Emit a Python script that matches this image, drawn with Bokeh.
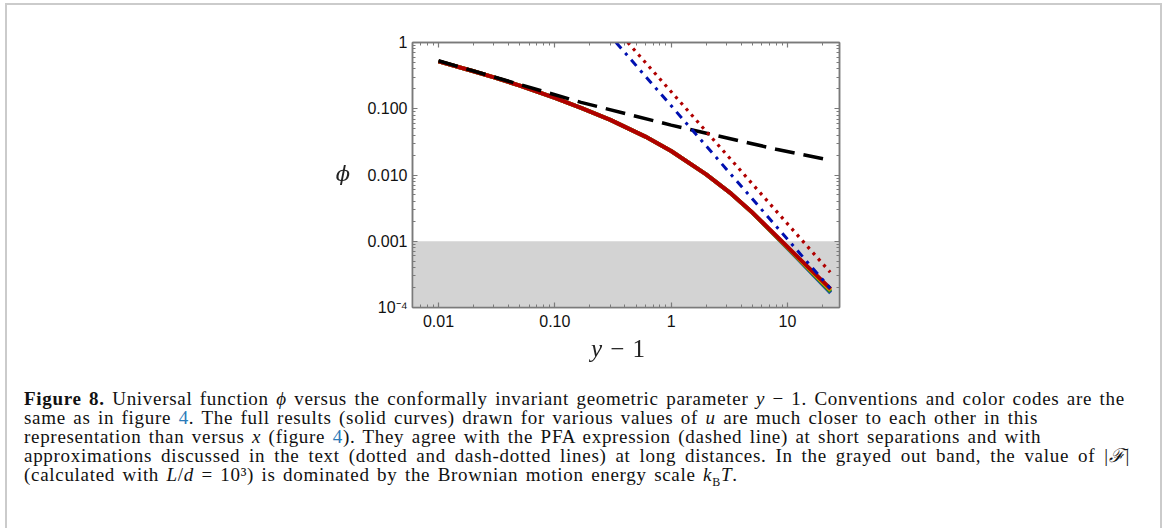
from bokeh.plotting import figure
from bokeh.models import LogAxis, FixedTicker, CustomJSTickFormatter, BoxAnnotation, Div
from bokeh.layouts import column
from bokeh.embed import file_html
from bokeh.resources import INLINE

# ---------------- data ----------------
y_minus_1 = [0.01, 0.02, 0.03, 0.05, 0.1, 0.17, 0.3, 0.6, 1, 2, 3.3, 5, 8.5, 12.6, 23.5]
phi_red = [0.52, 0.368, 0.297, 0.224, 0.1457, 0.1024, 0.0680, 0.0380, 0.0230, 0.01023,
           0.00518, 0.00271, 0.00109, 0.000552, 0.000191]
phi_orange = [0.52, 0.368, 0.297, 0.224, 0.1457, 0.1024, 0.0680, 0.0380, 0.0230, 0.01023,
              0.00518, 0.00270, 0.00107, 0.000540, 0.000181]
phi_green = [0.52, 0.368, 0.297, 0.224, 0.1457, 0.1024, 0.0680, 0.0380, 0.0230, 0.01023,
             0.00518, 0.00269, 0.00106, 0.000530, 0.000173]
phi_blue = [0.52, 0.368, 0.297, 0.224, 0.1457, 0.1024, 0.0680, 0.0380, 0.0230, 0.01023,
            0.00518, 0.00268, 0.00105, 0.000520, 0.000166]

pfa_x = [0.01, 0.168, 1.0, 8.0, 23.5]
pfa_phi = [0.53, 0.125, 0.0566, 0.0245, 0.0167]

dotted_x = [0.424, 23.3]
dotted_phi = [1.0, 0.00034]

dashdot_x = [0.336, 23.3]
dashdot_phi = [1.0, 0.000195]

band_top = 0.001

x_major = [0.01, 0.1, 1, 10]
x_labels = ["0.01", "0.10", "1", "10"]
y_major = [1e-4, 1e-3, 1e-2, 1e-1, 1]
y_labels = ["10\u207b\u2074", "0.001", "0.010", "0.100", "1"]

x_minor = [m * 10.0 ** e for e in range(-3, 2) for m in range(2, 10)]
y_minor = [m * 10.0 ** e for e in range(-4, 0) for m in range(2, 10)]

x_title_var = "y"
x_title_rest = "\u2212 1"
y_title = "\u03d5"

# ---------------- figure ----------------
FRAME = "#7a7a7a"
p = figure(width=1149, height=372, x_axis_type="log", y_axis_type="log",
           x_range=(0.00598, 28.0), y_range=(1e-4, 1),
           output_backend="svg", toolbar_location=None,
           min_border_left=412, min_border_right=310, min_border_top=42, min_border_bottom=65)
p.grid.visible = False
p.outline_line_color = FRAME
p.outline_line_width = 1.5
p.background_fill_color = "white"
p.border_fill_color = "white"

fmt_code = """
let best = 0, bd = Infinity;
for (let i = 0; i < vals.length; i++) {
  const d = Math.abs(Math.log10(tick) - Math.log10(vals[i]));
  if (d < bd) { bd = d; best = i; }
}
return labs[best];
"""
bottom_axis = p.xaxis[0]
left_axis = p.yaxis[0]
bottom_axis.ticker = FixedTicker(ticks=x_major, minor_ticks=x_minor)
left_axis.ticker = FixedTicker(ticks=y_major, minor_ticks=y_minor)
bottom_axis.formatter = CustomJSTickFormatter(args=dict(vals=x_major, labs=x_labels), code=fmt_code)
left_axis.formatter = CustomJSTickFormatter(args=dict(vals=y_major, labs=y_labels), code=fmt_code)

top_axis = LogAxis(ticker=FixedTicker(ticks=x_major, minor_ticks=x_minor),
                   formatter=CustomJSTickFormatter(code="return ''"))
right_axis = LogAxis(ticker=FixedTicker(ticks=y_major, minor_ticks=y_minor),
                     formatter=CustomJSTickFormatter(code="return ''"))
p.add_layout(top_axis, "above")
p.add_layout(right_axis, "right")

for ax in [bottom_axis, left_axis, top_axis, right_axis]:
    ax.major_tick_in = 5
    ax.major_tick_out = 0
    ax.minor_tick_in = 3
    ax.minor_tick_out = 0
    ax.major_tick_line_color = FRAME
    ax.minor_tick_line_color = FRAME
    ax.major_tick_line_width = 1.2
    ax.minor_tick_line_width = 1.0
    ax.axis_line_color = FRAME
    ax.axis_line_width = 1.5
    ax.major_label_text_font = "Liberation Sans"
    ax.major_label_text_font_size = "16px"
    ax.major_label_text_color = "#111111"
bottom_axis.major_label_standoff = 7
left_axis.major_label_standoff = 5
top_axis.major_label_text_font_size = "1px"
right_axis.major_label_text_font_size = "1px"

# gray band
p.add_layout(BoxAnnotation(top=band_top, fill_color="#d3d3d3", fill_alpha=1.0,
                           line_color=None, level="underlay"))

# solid curves
p.line(y_minus_1, phi_blue, line_color="#1f3fbf", line_width=4)
p.line(y_minus_1, phi_green, line_color="#1f8f1f", line_width=4)
p.line(y_minus_1, phi_orange, line_color="#d98c00", line_width=4)
p.line(y_minus_1, phi_red, line_color="#b00000", line_width=4)

# PFA dashed
p.line(pfa_x, pfa_phi, line_color="black", line_width=3.5, line_dash="20 9")
# dotted
p.line(dotted_x, dotted_phi, line_color="#b00000", line_width=3.2, line_dash="3 5")
# dash-dotted
p.line(dashdot_x, dashdot_phi, line_color="#0010b0", line_width=3, line_dash="8 6 3 6")

# ---------------- caption, axis titles and page frame ----------------
LINK = "#2b7bb9"
frame_html = ('<div style="position:fixed; left:5px; top:3px; width:1157px; height:620px; '
              'box-sizing:border-box; border:2px solid #cbcbcb; pointer-events:none;"></div>')
ytitle_html = ('<div style="position:fixed; left:331px; top:160px; width:24px; line-height:28px; '
               'text-align:center; font-family:\'DejaVu Serif\',serif; font-style:italic; '
               'font-size:21px; color:#222;">%s</div>' % y_title)
xtitle_html = ('<div style="position:fixed; left:588px; top:334px; width:60px; line-height:30px; '
               'text-align:center; white-space:nowrap; font-family:\'Liberation Serif\',serif; '
               'font-size:25px; word-spacing:2px; color:#222;"><i>%s</i> %s</div>'
               % (x_title_var, x_title_rest))
caption_html = (
    '<div style="font-family:\'Liberation Serif\',serif; font-size:19px; line-height:19px; '
    'letter-spacing:0.7px; word-spacing:2px; '
    'white-space:nowrap; color:#111; padding-left:19px; padding-top:12px;">'
    '<b>Figure 8.</b> Universal function <i>\u03d5</i> versus the conformally invariant geometric '
    'parameter <i>y</i> \u2212 1. Conventions and color codes are the<br>'
    'same as in figure <span style="color:%s">4</span>. The full results (solid curves) drawn for '
    'various values of <i>u</i> are much closer to each other in this<br>'
    'representation than versus <i>x</i> (figure <span style="color:%s">4</span>). They agree with '
    'the PFA expression (dashed line) at short separations and with<br>'
    '<span style="word-spacing:3.5px">approximations discussed in the text (dotted and dash-dotted lines) at long distances. In the '
    'grayed out band, the value of |<i>\u2131</i>|</span><br>'
    '(calculated with <i>L</i>/<i>d</i> = 10\u00b3) is dominated by the '
    'Brownian motion energy scale <i>k</i><sub style="font-size:12px; line-height:0">B</sub><i>T</i>.'
    '</div>' % (LINK, LINK)
)
caption = Div(text=frame_html + ytitle_html + xtitle_html + caption_html, width=1149, height=140)

layout = column(p, caption)
open("out.html", "w").write(file_html(layout, INLINE))
